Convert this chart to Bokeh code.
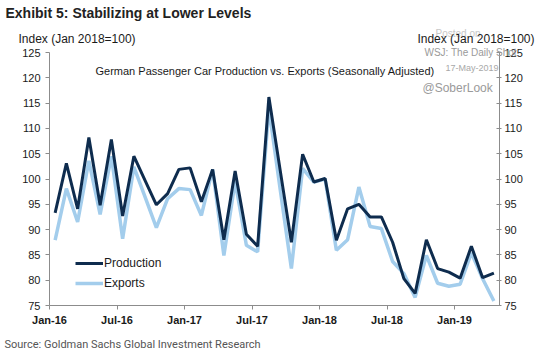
from bokeh.plotting import figure
from bokeh.models import (Range1d, LinearAxis, FixedTicker, Label, Legend, LegendItem,
                          ColumnDataSource)
from bokeh.embed import file_html
from bokeh.resources import INLINE
import numpy as np

# ---- data (monthly, Jan-16 .. Apr-19) ----
production = [93.3, 103.1, 94.1, 108.2, 94.8, 107.8, 92.7, 104.5, 99.7, 94.9,
              97.1, 101.9, 102.2, 95.5, 101.9, 88.0, 101.6, 89.1, 86.7, 116.2,
              101.8, 87.5, 104.9, 99.4, 100.1, 87.9, 94.1, 95.0, 92.5, 92.5,
              87.5, 80.3, 77.4, 88.0, 82.3, 81.6, 80.4, 86.7, 80.5, 81.4]
exports = [87.9, 98.1, 91.5, 103.6, 93.0, 104.5, 88.2, 102.4, 96.4, 90.4,
           96.1, 98.1, 97.9, 92.8, 101.9, 84.9, 99.5, 86.9, 85.6, 114.0,
           98.0, 82.3, 102.1, 99.4, 100.0, 85.9, 88.0, 98.4, 90.6, 90.2,
           83.7, 81.3, 76.6, 84.9, 79.4, 78.8, 79.2, 85.4, 80.3, 75.9]
x_tick_pos = [0, 6, 12, 18, 24, 30, 36]
x_tick_labels = ["Jan-16", "Jul-16", "Jan-17", "Jul-17", "Jan-18", "Jul-18", "Jan-19"]
y_ticks = [75, 80, 85, 90, 95, 100, 105, 110, 115, 120, 125]
X_MIN, X_MAX = 0, 40
Y_MIN, Y_MAX = 75, 125

# ---- layout (pixels) ----
W, H = 540, 358
PL, PR, PT, PB = 49, 499, 52, 305   # plot-area edges on the canvas

months = np.arange(len(production)) + 0.5
src = ColumnDataSource(dict(x=months, prod=production, exp=exports))

# the frame covers the whole canvas; ranges are widened so that the
# data area sits at the plot-area pixels, axes are pinned with fixed_location
xs = (X_MAX - X_MIN) / (PR - PL)
ys = (Y_MAX - Y_MIN) / (PB - PT)
x_range = Range1d(X_MIN - PL * xs, X_MAX + (W - PR) * xs)
y_range = Range1d(Y_MIN - (H - PB) * ys, Y_MAX + PT * ys)

PROD_C = "#0e2c4e"
EXP_C = "#a3cdec"
TXT = "#1a1a1a"
AXC = "#8c8c8c"
SANS = "Liberation Sans"

p = figure(width=W, height=H, output_backend="svg", toolbar_location=None,
           title=None, x_range=x_range, y_range=y_range,
           x_axis_location=None, y_axis_location=None,
           min_border=0)
p.outline_line_color = None
p.grid.visible = False
p.background_fill_color = "white"
p.border_fill_color = "white"

r_exp = p.line("x", "exp", source=src, line_color=EXP_C, line_width=3.5)
r_prod = p.line("x", "prod", source=src, line_color=PROD_C, line_width=3)


def style_axis(ax, tin, tout, standoff, bold=False):
    ax.minor_tick_line_color = None
    ax.major_tick_in = tin
    ax.major_tick_out = tout
    ax.axis_line_color = AXC
    ax.major_tick_line_color = AXC
    ax.major_label_text_font = SANS
    ax.major_label_text_font_size = "11px"
    ax.major_label_text_color = TXT
    ax.major_label_standoff = standoff
    if bold:
        ax.major_label_text_font_style = "bold"


xa = LinearAxis(ticker=FixedTicker(ticks=x_tick_pos), fixed_location=Y_MIN,
                bounds=(X_MIN, X_MAX))
xa.major_label_overrides = {t: l for t, l in zip(x_tick_pos, x_tick_labels)}
style_axis(xa, 0, 4, 4, bold=True)
p.add_layout(xa, "below")

ya = LinearAxis(ticker=FixedTicker(ticks=y_ticks), fixed_location=X_MIN,
                bounds=(Y_MIN, Y_MAX))
style_axis(ya, 0, 4, 5)
p.add_layout(ya, "left")

ra = LinearAxis(ticker=FixedTicker(ticks=y_ticks), fixed_location=X_MAX,
                bounds=(Y_MIN, Y_MAX))
style_axis(ra, 3, 2, 3)
p.add_layout(ra, "right")

# legend
leg = Legend(items=[LegendItem(label="Production", renderers=[r_prod]),
                    LegendItem(label="Exports", renderers=[r_exp])],
             location=(75, H - 293), orientation="vertical",
             background_fill_alpha=0, border_line_color=None,
             padding=0, margin=0, spacing=0,
             glyph_width=28, glyph_height=20, label_height=20,
             label_standoff=1, label_text_font=SANS,
             label_text_font_size="12px", label_text_color=TXT)
p.add_layout(leg, "center")


def lab(text, x, y, size, color=TXT, font=SANS, style="normal", align="left"):
    # x, y: canvas pixels from the top-left corner (y = middle of the text)
    p.add_layout(Label(x=x, y=H - y, x_units="screen", y_units="screen", text=text,
                       text_font=font, text_font_size=size, text_color=color,
                       text_font_style=style, text_align=align,
                       text_baseline="middle"))


lab("Exhibit 5: Stabilizing at Lower Levels", 5, 12, "14px", color="#222222",
    style="bold")
lab("Index (Jan 2018=100)", 18, 38, "12px")
lab("Posted on", 435, 33, "10px", color="#c8c8c8")
lab("Index (Jan 2018=100)", 534, 38, "12px", align="right")
lab("WSJ: The Daily Shot", 424, 52, "10px", color="#9a9a9a")
lab("17-May-2019", 445, 67, "9px", color="#a8a8a8")
lab("@SoberLook", 422, 87, "12px", color="#9a9a9a")
lab("German Passenger Car Production vs. Exports (Seasonally Adjusted)", 95, 70, "11px")
lab("Source: Goldman Sachs Global Investment Research", 4, 344, "11px",
    color="#555555", font="Roboto")

open("out.html", "w").write(file_html(p, INLINE))
